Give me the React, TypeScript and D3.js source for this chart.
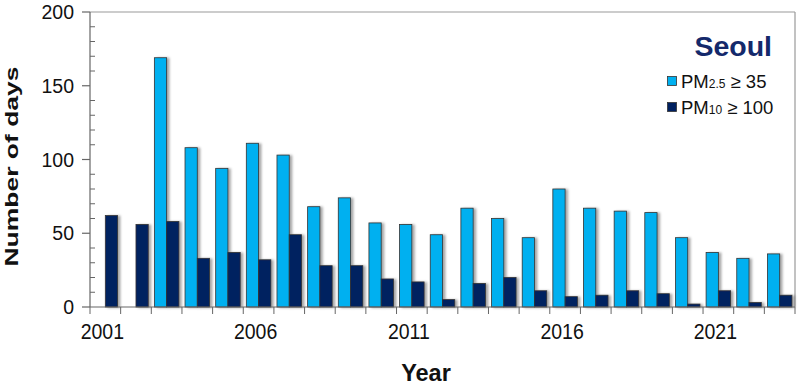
import React from "react";
import * as d3 from "d3";

// days exceeding thresholds in Seoul
const years = d3.range(2001, 2024);
const pm25 = [null, null, 169, 108, 94, 111, 103, 68, 74, 57, 56, 49, 67, 60, 47, 80, 67, 65, 64, 47, 37, 33, 36];
const pm10 = [62, 56, 58, 33, 37, 32, 49, 28, 28, 19, 17, 5, 16, 20, 11, 7, 8, 11, 9, 2, 11, 3, 8];
const yearLabels = [2001, 2006, 2011, 2016, 2021];
const yTicks = [0, 50, 100, 150, 200];
const seriesKeys = ["pm25", "pm10"];

const LIGHT = "#00b0f0";
const DARK = "#002060";
const FONT = "Liberation Sans, Arial, sans-serif";

const W = 800;
const H = 388;
const left = 90;
const right = 795;
const top = 12;
const bottom = 307;

export default function App() {
  const x0 = d3.scaleBand<number>().domain(years).range([left, right]);
  const x1 = d3
    .scaleBand<string>()
    .domain(seriesKeys)
    .range([0, x0.bandwidth()])
    .paddingOuter(0.25);
  const y = d3.scaleLinear().domain([0, 200]).range([bottom, top]);
  const minor = d3.range(0, 201, 10).filter(v => v % 50 !== 0);

  const bars: { key: string; year: number; v: number; color: string }[] = [];
  years.forEach((yr, i) => {
    if (pm25[i] != null) bars.push({ key: "pm25", year: yr, v: pm25[i] as number, color: LIGHT });
    bars.push({ key: "pm10", year: yr, v: pm10[i], color: DARK });
  });

  const boundaries = years.map(yr => x0(yr) as number).concat([right]);

  return (
    <svg
      width={W}
      height={H}
      style={{ position: "absolute", left: 0, top: 0, background: "#fff" }}
      fontFamily={FONT}
    >
      <defs>
        <filter id="shadow" x="-30%" y="-10%" width="160%" height="120%">
          <feDropShadow dx="2.5" dy="0.5" stdDeviation="1" floodColor="#000" floodOpacity="0.35" />
        </filter>
      </defs>

      {/* frame */}
      <line x1={left} x2={right} y1={top} y2={top} stroke="#999" strokeWidth={1.2} />
      <line x1={right} x2={right} y1={top} y2={bottom} stroke="#999" strokeWidth={1.2} />

      {/* bars */}
      <g filter="url(#shadow)">
        {bars.map(b => (
          <rect
            key={b.key + b.year}
            x={(x0(b.year) as number) + (x1(b.key) as number)}
            y={y(b.v)}
            width={x1.bandwidth()}
            height={bottom - y(b.v)}
            fill={b.color}
            stroke="#333"
            strokeWidth={0.8}
          />
        ))}
      </g>

      {/* y axis */}
      <line x1={left} x2={left} y1={top} y2={bottom} stroke="#666" strokeWidth={1.2} />
      {minor.map(v => (
        <line key={v} x1={left} x2={left + 5} y1={y(v)} y2={y(v)} stroke="#666" />
      ))}
      {yTicks.map(v => (
        <g key={v}>
          <line x1={left - 8} x2={left} y1={y(v)} y2={y(v)} stroke="#666" strokeWidth={1.2} />
          <text x={74} y={y(v)} dy="0.36em" textAnchor="end" fontSize={19.5} fill="#111">
            {v}
          </text>
        </g>
      ))}
      <text
        transform={`translate(17.5,${(top + bottom) / 2 + 7}) rotate(-90)`}
        textAnchor="middle"
        fontSize={19}
        fontWeight="bold"
        textLength={200}
        lengthAdjust="spacingAndGlyphs"
        fill="#111"
      >
        Number of days
      </text>

      {/* x axis */}
      <line x1={left} x2={right} y1={bottom} y2={bottom} stroke="#666" strokeWidth={1.2} />
      {boundaries.map((bx, i) => (
        <line key={i} x1={bx} x2={bx} y1={bottom} y2={bottom + 7} stroke="#666" />
      ))}
      {yearLabels.map(yr => (
        <text
          key={yr}
          transform={`translate(${(x0(yr) as number) + x0.bandwidth() / 2 - 3},339) scale(1,1.12)`}
          textAnchor="middle"
          fontSize={19.5}
          fill="#111"
        >
          {yr}
        </text>
      ))}
      <text x={426} y={381} textAnchor="middle" fontSize={23.5} fontWeight="bold" fill="#111">
        Year
      </text>

      {/* legend */}
      <text x={772} y={56} textAnchor="end" fontSize={28.5} fontWeight="bold" fill="#14296b">
        Seoul
      </text>
      <rect x={667.5} y={76.5} width={9} height={9} fill={LIGHT} stroke="#333" strokeWidth={0.8} />
      <text x={681} y={87.5} fontSize={18.5} fill="#111">
        PM<tspan fontSize={12}>2.5</tspan> ≥ 35
      </text>
      <rect x={667.5} y={102.5} width={9} height={9} fill={DARK} stroke="#333" strokeWidth={0.8} />
      <text x={681} y={113.5} fontSize={18.5} fill="#111">
        PM<tspan fontSize={12}>10</tspan> ≥ 100
      </text>
    </svg>
  );
}
